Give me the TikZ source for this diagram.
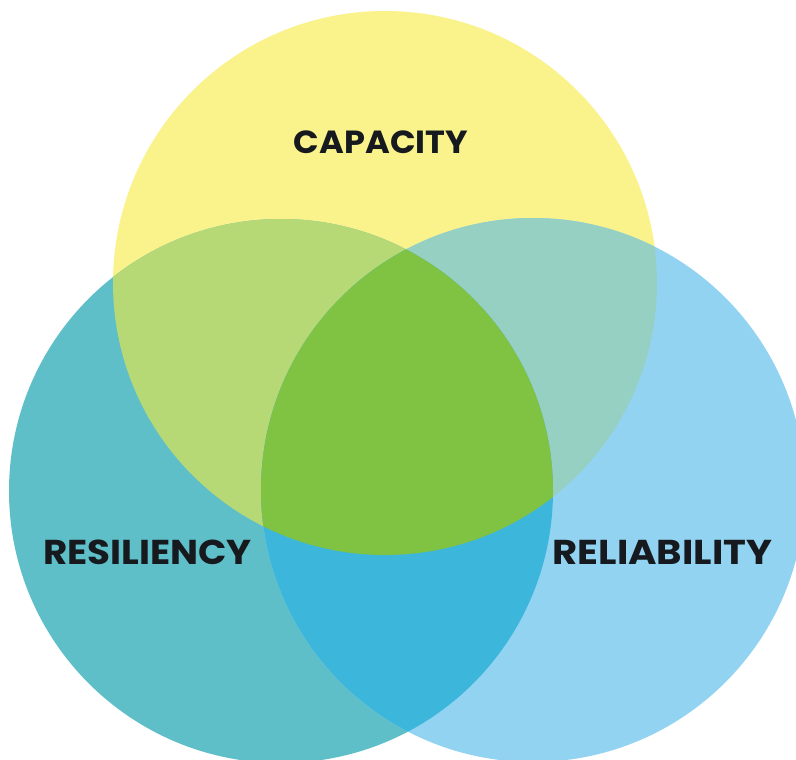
\documentclass[tikz,border=0pt]{standalone}
\usepackage{fontspec}
\setmainfont{Poppins}
\definecolor{cyel}{HTML}{FAF28A}
\definecolor{cteal}{HTML}{5EBFC9}
\definecolor{cblue}{HTML}{93D3F2}
\definecolor{cyl}{HTML}{B7D975}
\definecolor{cyr}{HTML}{96D0C3}
\definecolor{clr}{HTML}{3DB6DC}
\definecolor{call}{HTML}{80C241}
\definecolor{ctext}{HTML}{161A1E}
\begin{document}
\begin{tikzpicture}[x=1pt,y=-1pt,
  lbl/.style={text=ctext,inner sep=0pt,anchor=center},
  toplbl/.style={lbl,font=\bfseries\fontsize{32}{36}\selectfont},
  botlbl/.style={lbl,font=\bfseries\fontsize{34.5}{38}\selectfont}]
\useasboundingbox[fill=white] (0,0) rectangle (796,760);
\coordinate (Y) at (385,283);
\coordinate (L) at (281,491);
\coordinate (R) at (533,490);
\def\rr{272}
\fill[cyel] (Y) circle (\rr);
\fill[cteal] (L) circle (\rr);
\fill[cblue] (R) circle (\rr);
\begin{scope}
  \clip (Y) circle (\rr);
  \fill[cyl] (L) circle (\rr);
  \fill[cyr] (R) circle (\rr);
\end{scope}
\begin{scope}
  \clip (L) circle (\rr);
  \fill[clr] (R) circle (\rr);
\end{scope}
\begin{scope}
  \clip (Y) circle (\rr);
  \clip (L) circle (\rr);
  \fill[call] (R) circle (\rr);
\end{scope}
\node[toplbl,xscale=1.05] (cap) at (381,142) {CAPACITY};
\node[botlbl,xscale=1.08] (res) at (147.5,552) {RESILIENCY};
\node[botlbl,xscale=1.12] (rel) at (662.5,552) {RELIABILITY};
\end{tikzpicture}
\end{document}
